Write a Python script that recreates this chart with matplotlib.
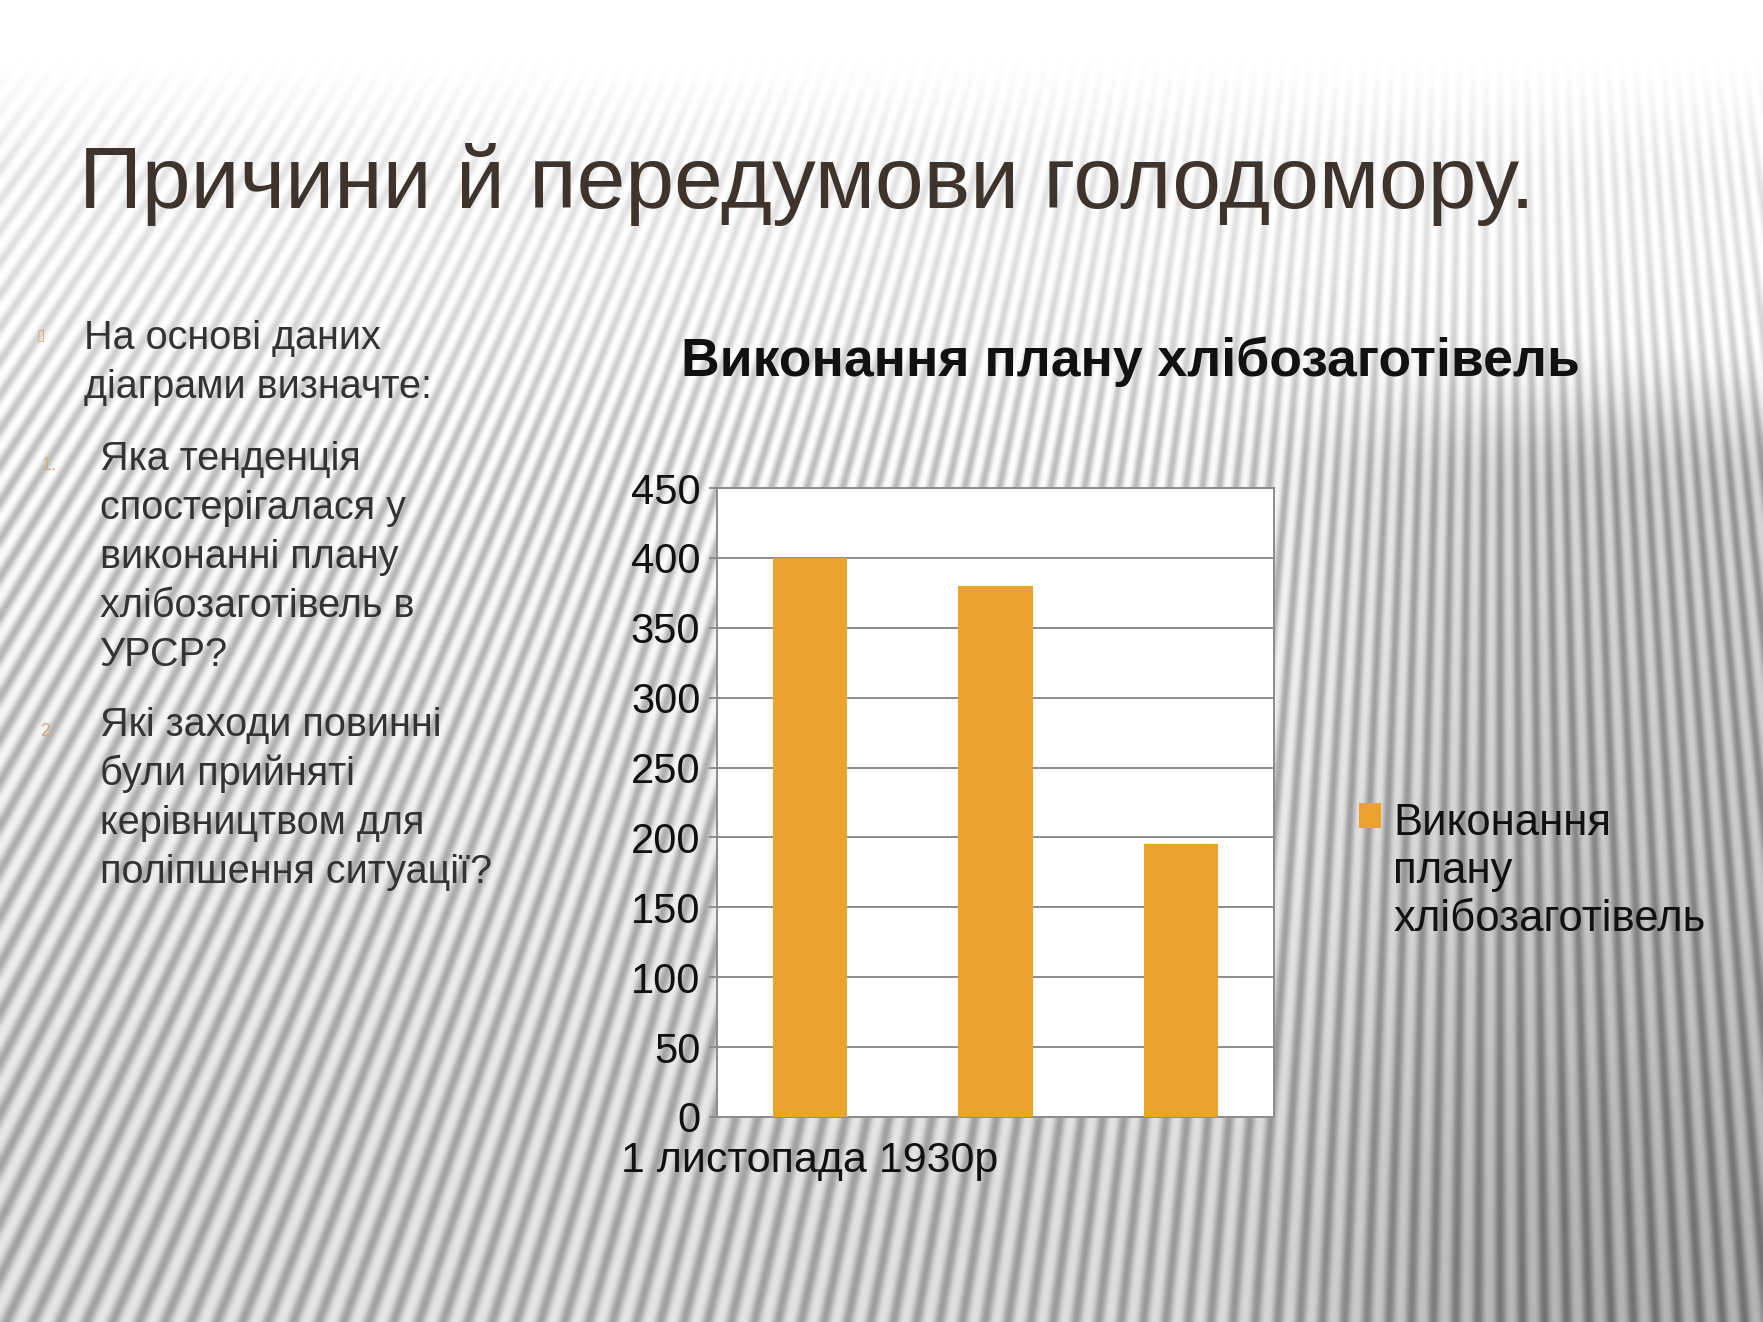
import numpy as np
import matplotlib
matplotlib.use('Agg')
import matplotlib.pyplot as plt

plt.rcParams['font.family'] = ['Liberation Sans', 'DejaVu Sans']

# дані діаграми
categories = ['1 листопада 1930р', '', '']
values = [400, 380, 195]
series_name = 'Виконання\nплану\nхлібозаготівель'
y_ticks = [0, 50, 100, 150, 200, 250, 300, 350, 400, 450]

slide_title = 'Причини й передумови голодомору.'
chart_title = 'Виконання плану хлібозаготівель'
intro_lines = ['На основі даних', 'діаграми визначте:']
question_1 = ['Яка тенденція', 'спостерігалася у', 'виконанні плану',
              'хлібозаготівель в', 'УРСР?']
question_2 = ['Які заходи повинні', 'були прийняті',
              'керівництвом для', 'поліпшення ситуації?']

W, H = 1763, 1322
bar_color = '#EBA22F'
grid_color = '#8C8C8C'
text_color = '#333333'
title_color = '#3E342C'
num_color = '#C9AE78'

fig = plt.figure(figsize=(W / 100, H / 100), dpi=100)


def smooth(a, b, v):
    t = np.clip((v - a) / (b - a), 0, 1)
    return t * t * (3 - 2 * t)


# фон слайду: смуги, що сходяться вгорі
bg = fig.add_axes([0, 0, 1, 1], zorder=0)
ys, xs = np.mgrid[0:H:2, 0:W:2].astype(float)
vx, vy = 1500.0, -1900.0
theta = np.arctan2(xs - vx, ys - vy)
phase = theta * 2900.0 / 20.0 * 2 * np.pi
stripe = (0.5 + 0.5 * np.cos(phase)) ** 1.4
dark = (0.10 * smooth(300, 1300, ys)
        + 0.15 * smooth(1150, 1600, xs) * smooth(330, 480, ys)
        + 0.04 * smooth(850, 1300, ys) * smooth(500, 1400, xs))
amp = 0.12 * smooth(40, 200, ys) + 0.15 * smooth(200, 520, ys)
val = np.clip(1 - dark - amp * stripe, 0, 1)
bg.imshow(val, cmap='gray', vmin=0, vmax=1, extent=[0, 1, 0, 1],
          aspect='auto', interpolation='bilinear')
bg.set_axis_off()

# діаграма
ax = fig.add_axes([717 / W, 1 - 1117 / H, 557 / W, 629 / H], zorder=2)
ax.set_facecolor('white')
x = np.arange(len(values))
ax.bar(x, values, width=0.4, color=bar_color, label=series_name, zorder=3)
ax.set_xlim(-0.5, len(values) - 0.5)
ax.set_ylim(0, 450)
ax.set_yticks(y_ticks)
ax.set_xticks(x)
ax.set_xticklabels(categories)
ax.yaxis.grid(True, color=grid_color, linewidth=1.4, zorder=0)
ax.set_axisbelow(True)
for s in ax.spines.values():
    s.set_color(grid_color)
    s.set_linewidth(1.4)
ax.tick_params(axis='y', length=6, width=1.4, color=grid_color, pad=6,
               labelsize=30, labelcolor='#111111')
ax.tick_params(axis='x', length=0, pad=17, labelsize=31, labelcolor='#111111')

leg = ax.legend(loc='upper left', bbox_to_anchor=(1320 / W, 1 - 764 / H),
                bbox_transform=fig.transFigure, frameon=False, fontsize=31.5,
                handlelength=0.5, handleheight=0.5, handletextpad=0.28,
                labelspacing=0.2)
for col in leg._legend_handle_box.get_children():
    for item in col.get_children():
        item.align = 'top'
for t in leg.get_texts():
    t.set_color('#111111')
    t.set_linespacing(1.22)

fig.text(1130 / W, 1 - 362 / H, chart_title, fontsize=38.5, fontweight='bold',
         color='#111111', ha='center', va='center', zorder=3)

# заголовок слайду
fig.text(79 / W, 1 - 208 / H, slide_title, fontsize=63,
         color=title_color, ha='left', va='baseline', zorder=3)

# текст зліва
step = 49
fig.text(37 / W, 1 - 340 / H, '▯', fontsize=11, color='#D9A847',
         family=['DejaVu Sans'], ha='left', va='baseline', zorder=3)
for i, line in enumerate(intro_lines):
    fig.text(84 / W, 1 - (349 + i * step) / H, line, fontsize=28.5,
             color=text_color, ha='left', va='baseline', zorder=3)

fig.text(42 / W, 1 - 470 / H, '1.', fontsize=13, color=num_color,
         ha='left', va='baseline', zorder=3)
for i, line in enumerate(question_1):
    fig.text(100 / W, 1 - (470 + i * step) / H, line, fontsize=28.5,
             color=text_color, ha='left', va='baseline', zorder=3)

fig.text(40 / W, 1 - 736 / H, '2.', fontsize=13, color=num_color,
         ha='left', va='baseline', zorder=3)
for i, line in enumerate(question_2):
    fig.text(100 / W, 1 - (736 + i * step) / H, line, fontsize=28.5,
             color=text_color, ha='left', va='baseline', zorder=3)

fig.savefig('out.png', dpi=100)
